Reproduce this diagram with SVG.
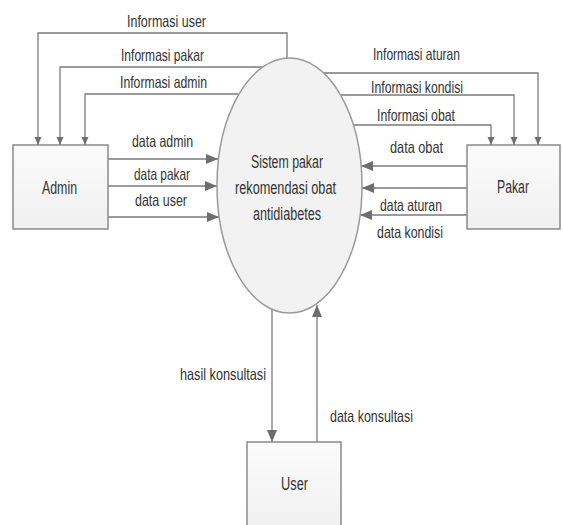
<svg xmlns="http://www.w3.org/2000/svg" width="563" height="525" viewBox="0 0 563 525">
<style>
.t{font-family:"Liberation Sans Narrow","Liberation Sans",Arial,sans-serif;font-size:16.5px;fill:#333;text-anchor:start}
.n{font-family:"Liberation Sans Narrow","Liberation Sans",Arial,sans-serif;font-size:17.5px;fill:#333}
.c{fill:none;stroke:#7a7a7a;stroke-width:1.3}
.box{fill:url(#g);stroke:#8a8a8a;stroke-width:1.5}
</style>
<defs>
<linearGradient id="g" x1="0" y1="0" x2="0" y2="1"><stop offset="0" stop-color="#fbfbfb"/><stop offset="1" stop-color="#f0f0f0"/></linearGradient>
<marker id="big" viewBox="0 0 12 10" refX="12" refY="5" markerWidth="12" markerHeight="10" markerUnits="userSpaceOnUse" orient="auto"><path d="M0,0 L12,5 L0,10 z" fill="#6e6e6e"/></marker>
<marker id="sm" viewBox="0 0 8 8" refX="8" refY="4" markerWidth="8" markerHeight="8" markerUnits="userSpaceOnUse" orient="auto"><path d="M0,0.5 L8,4 L0,7.5 z" fill="#6e6e6e"/></marker>
</defs>
<rect width="563" height="525" fill="#fff"/>
<g id="connectors">
<path class="c" d="M287,58 V33 H38 V145" marker-end="url(#sm)"/>
<path class="c" d="M263,67 H60 V145" marker-end="url(#sm)"/>
<path class="c" d="M238,94 H85 V145" marker-end="url(#sm)"/>
<path class="c" d="M323,73 H538 V145" marker-end="url(#sm)"/>
<path class="c" d="M340,95 H514 V145" marker-end="url(#sm)"/>
<path class="c" d="M353,125 H491 V145" marker-end="url(#sm)"/>
<path class="c" d="M108,159 H218" marker-end="url(#big)"/>
<path class="c" d="M108,186 H217" marker-end="url(#big)"/>
<path class="c" d="M108,217 H219" marker-end="url(#big)"/>
<path class="c" d="M467,166 H361" marker-end="url(#big)"/>
<path class="c" d="M467,188 H362" marker-end="url(#big)"/>
<path class="c" d="M467,215 H360" marker-end="url(#big)"/>
<path class="c" d="M272,309 V442" marker-end="url(#big)"/>
<path class="c" d="M317,442 V305" marker-end="url(#big)"/>
<text class="t" x="127" y="27" textLength="79" lengthAdjust="spacingAndGlyphs">Informasi user</text>
<text class="t" x="121" y="61" textLength="83" lengthAdjust="spacingAndGlyphs">Informasi pakar</text>
<text class="t" x="120" y="88" textLength="87" lengthAdjust="spacingAndGlyphs">Informasi admin</text>
<text class="t" x="373" y="60" textLength="87" lengthAdjust="spacingAndGlyphs">Informasi aturan</text>
<text class="t" x="371" y="93" textLength="92" lengthAdjust="spacingAndGlyphs">Informasi kondisi</text>
<text class="t" x="377" y="121" textLength="78" lengthAdjust="spacingAndGlyphs">Informasi obat</text>
<text class="t" x="390" y="153" textLength="53" lengthAdjust="spacingAndGlyphs">data obat</text>
<text class="t" x="380" y="211" textLength="62" lengthAdjust="spacingAndGlyphs">data aturan</text>
<text class="t" x="377" y="238" textLength="66" lengthAdjust="spacingAndGlyphs">data kondisi</text>
<text class="t" x="132" y="147" textLength="61" lengthAdjust="spacingAndGlyphs">data admin</text>
<text class="t" x="134" y="180" textLength="56" lengthAdjust="spacingAndGlyphs">data pakar</text>
<text class="t" x="135" y="206" textLength="52" lengthAdjust="spacingAndGlyphs">data user</text>
<text class="t" x="180" y="380" textLength="86" lengthAdjust="spacingAndGlyphs">hasil konsultasi</text>
<text class="t" x="330" y="422" textLength="83" lengthAdjust="spacingAndGlyphs">data konsultasi</text>
</g>
<g id="sistem">
<ellipse cx="289.5" cy="185.5" rx="72.5" ry="127.5" fill="#f2f2f2" stroke="#9a9a9a" stroke-width="1.5"/>
<text class="n" x="251" y="168" textLength="72" lengthAdjust="spacingAndGlyphs">Sistem pakar</text>
<text class="n" x="235" y="194" textLength="101" lengthAdjust="spacingAndGlyphs">rekomendasi obat</text>
<text class="n" x="253" y="220" textLength="68" lengthAdjust="spacingAndGlyphs">antidiabetes</text>
</g>
<g id="admin">
<rect class="box" x="13" y="145" width="95" height="84"/>
<text class="n" x="42" y="194" textLength="35" lengthAdjust="spacingAndGlyphs">Admin</text>
</g>
<g id="pakar">
<rect class="box" x="467" y="145" width="93" height="84"/>
<text class="n" x="497" y="193" textLength="32" lengthAdjust="spacingAndGlyphs">Pakar</text>
</g>
<g id="user">
<rect class="box" x="247" y="442" width="94" height="86"/>
<text class="n" x="281" y="490" textLength="27" lengthAdjust="spacingAndGlyphs">User</text>
</g>
</svg>
